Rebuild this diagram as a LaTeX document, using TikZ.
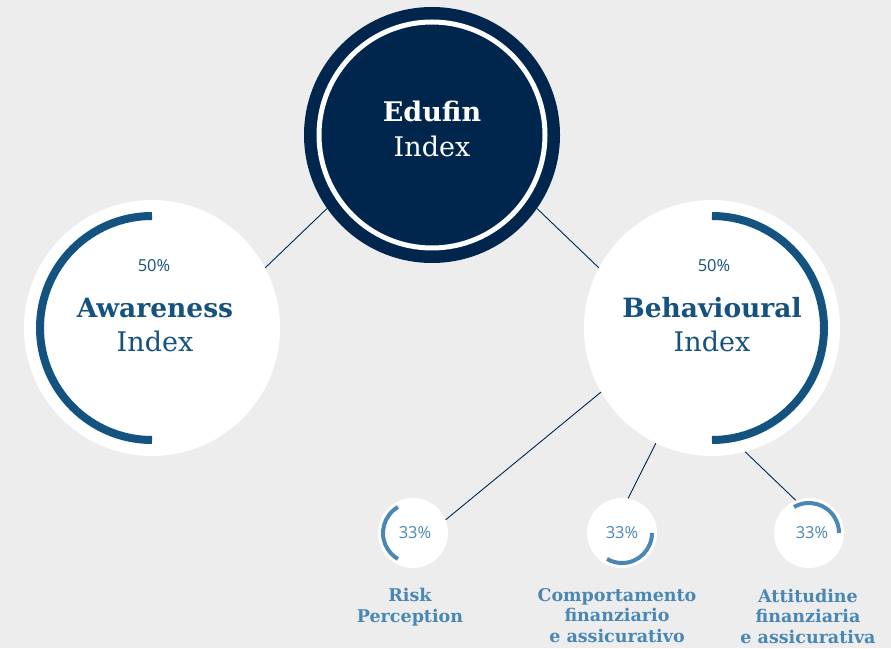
\documentclass[tikz,border=0pt]{standalone}
\usepackage{fontspec}
\setmainfont{DejaVu Serif}
\newfontfamily\pctfont{Open Sans}
\definecolor{bg}{HTML}{EDEDED}
\definecolor{navy}{HTML}{00264D}
\definecolor{midblue}{HTML}{14527F}
\definecolor{lightblue}{HTML}{4A87B5}
\begin{document}
\begin{tikzpicture}[x=1pt,y=1pt,
  bigcircle/.style={circle, fill=white, minimum size=256pt, inner sep=0pt},
  smallcircle/.style={circle, fill=white, minimum size=70pt, inner sep=0pt},
  link/.style={draw=navy, line width=0.9pt},
  bigarc/.style={draw=midblue, line width=8pt},
  smallarc/.style={draw=lightblue, line width=4pt},
  titletext/.style={font=\fontsize{27}{33}\selectfont, anchor=base, inner sep=0pt},
  pcttext/.style={font=\pctfont\fontsize{16.5}{19}\selectfont, inner sep=0pt},
  labeltext/.style={font=\fontsize{17.5}{20.5}\selectfont\bfseries, text=lightblue, align=center, anchor=base, inner sep=0pt}
]
\fill[bg] (0,0) rectangle (891,648);
\useasboundingbox (0,0) rectangle (891,648);

% nodes
\node[bigcircle, fill=navy] (ed) at (432,513) {};
\node[bigcircle] (aw) at (152,320) {};
\node[bigcircle] (be) at (712,320) {};
\node[smallcircle] (rp) at (413,115) {};
\node[smallcircle] (co) at (622,115) {};
\node[smallcircle] (at) at (809,115) {};

% connectors
\draw[link] (ed.215) -- (aw.28);
\draw[link] (ed.325) -- (be.152);
\draw[link] (be.210.6) -- (rp.22);
\draw[link] (be.244) -- (co.80);
\draw[link] (be.285) -- (at.112);

% rings and arcs
\draw[white, line width=5pt] (ed.center) circle[radius=113pt];
\draw[bigarc] ([shift={(90:112pt)}]aw.center) arc[start angle=90, end angle=270, radius=112pt];
\draw[bigarc] ([shift={(90:112pt)}]be.center) arc[start angle=90, end angle=-90, radius=112pt];
\draw[smallarc] ([shift={(120:30pt)}]rp.center) arc[start angle=120, end angle=240, radius=30pt];
\draw[smallarc] ([shift={(0:30pt)}]co.center) arc[start angle=0, end angle=-120, radius=30pt];
\draw[smallarc] ([shift={(120:30pt)}]at.center) arc[start angle=120, end angle=0, radius=30pt];

% texts
\node[titletext, text=white, font=\fontsize{27}{33}\selectfont\bfseries] (edt1) at (432,526) {Edufin};
\node[titletext, text=white] (edt2) at (432,491) {Index};

\node[pcttext, text=midblue] (awp) at (154,382) {50\%};
\node[titletext, text=midblue, font=\fontsize{26.5}{33}\selectfont\bfseries] (awt1) at (155,330) {Awareness};
\node[titletext, text=midblue] (awt2) at (155,296) {Index};

\node[pcttext, text=midblue] (bep) at (714,382) {50\%};
\node[titletext, text=midblue, font=\fontsize{26.5}{33}\selectfont\bfseries] (bet1) at (712,330) {Behavioural};
\node[titletext, text=midblue] (bet2) at (712,296) {Index};

\node[pcttext, text=lightblue] (rpp) at (415,115) {33\%};
\node[pcttext, text=lightblue] (cop) at (622,115) {33\%};
\node[pcttext, text=lightblue] (atp) at (812,115) {33\%};

\node[labeltext] (rpl) at (410,26) {Risk\\Perception};
\node[labeltext] (col) at (617,6) {Comportamento\\finanziario\\e assicurativo};
\node[labeltext] (atl) at (808,5) {Attitudine\\finanziaria\\e assicurativa};
\end{tikzpicture}
\end{document}
